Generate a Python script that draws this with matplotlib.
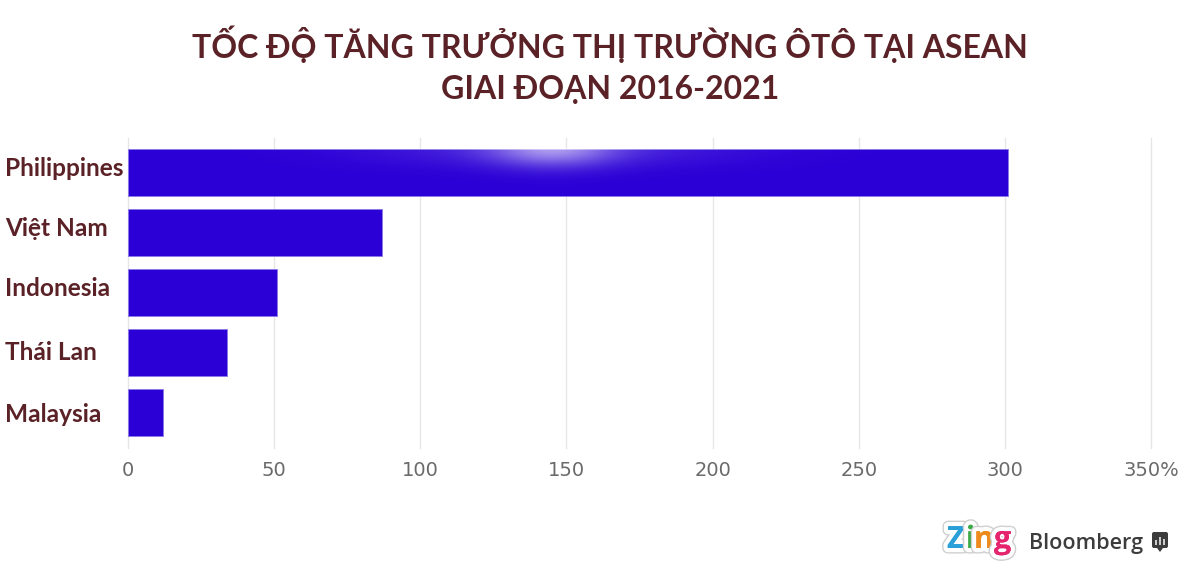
import matplotlib
matplotlib.use('Agg')
import matplotlib.pyplot as plt
import matplotlib.patheffects as pe
from matplotlib.patches import FancyBboxPatch, Polygon, Rectangle
import numpy as np

countries = ['Philippines', 'Việt Nam', 'Indonesia', 'Thái Lan', 'Malaysia']
growth = [301, 87, 51, 34, 12]
ticks = [0, 50, 100, 150, 200, 250, 300, 350]
tick_labels = ['0', '50', '100', '150', '200', '250', '300', '350%']
title = 'TỐC ĐỘ TĂNG TRƯỞNG THỊ TRƯỜNG ÔTÔ TẠI ASEAN\nGIAI ĐOẠN 2016-2021'
label_font = ['Lato', 'Open Sans', 'DejaVu Sans']
ink = '#5a2227'

W, H = 1200, 586
fig = plt.figure(figsize=(W/100, H/100), dpi=100, facecolor='white')
ax = fig.add_axes([128/W, 1-448/H, (1151-128)/W, (448-138)/H])
ax.set_xlim(0, 350)
ax.set_ylim(4.592, -0.575)
bars = ax.barh(range(5), growth, height=0.79, color='#2a00d6', edgecolor='#8a78ea', linewidth=0.6, zorder=3)
# soft highlight along the top of the longest bar
xs = np.linspace(-1, 1, 700)
ys = np.linspace(0, 1, 60)
gx, gy = np.meshgrid(xs, ys)
glow = (0.45*np.exp(-(gx/0.18)**2) + 0.16*np.exp(-(gx/0.55)**2)) * np.exp(-(gy/0.38)**2)
rgba = np.ones(glow.shape + (4,))
rgba[..., 3] = glow
b0 = bars[0]
ax.imshow(rgba, extent=(30, 260, b0.get_y()+b0.get_height(), b0.get_y()), aspect='auto', zorder=4, origin='upper')
ax.set_xlim(0, 350)
ax.set_ylim(4.592, -0.575)
ax.set_yticks([])
ax.set_xticks(ticks)
ax.set_xticklabels(tick_labels, family='DejaVu Sans', fontsize=14, color='#6a6a6a')
ax.tick_params(axis='x', length=0, pad=9)
ax.grid(axis='x', color='#e6e6e6', lw=1, zorder=0, clip_on=False)
for s in ax.spines.values():
    s.set_visible(False)
ypix = [169, 229, 289, 353, 415]
for c, y in zip(countries, ypix):
    fig.text(5/W, 1-y/H, c, family=label_font, weight='bold', fontsize=17.6, color=ink, va='center', ha='left')
fig.text(610/W, 1-64.5/H, title, family=label_font, weight='bold', fontsize=23, color=ink, ha='center', va='center', linespacing=1.48)

# logos
fig.text(1029/W, 1-543/H, 'Bloomberg', family='Open Sans', weight='semibold', fontsize=15.5, color='#3c3c3c', va='center')
zing = [('Z', 947, '#2a9fd8'), ('i', 966, '#3aa845'), ('n', 974, '#ee8a1e'), ('g', 994, '#e5256e')]
for ch, x, col in zing:
    fig.text(x/W, 1-540/H, ch, family='Open Sans', weight='bold', fontsize=22, color=col, va='center',
             path_effects=[pe.withStroke(linewidth=8, foreground='#cfcfcf'), pe.withStroke(linewidth=6, foreground='white'), pe.Normal()])
ov = fig.add_axes([0, 0, 1, 1], frameon=False)
ov.set_xlim(0, W); ov.set_ylim(H, 0); ov.axis('off')
ov.add_patch(FancyBboxPatch((1152, 532), 16, 16, boxstyle='round,pad=0,rounding_size=2', fc='#3c3c3c', ec='none'))
ov.add_patch(Polygon([[1157, 548], [1163, 548], [1160, 552]], fc='#3c3c3c', ec='none'))
for x, y0, h in [(1156, 545, 5), (1160, 545, 8), (1164, 545, 6)]:
    ov.add_patch(Rectangle((x-0.7, y0-h), 1.4, h, fc='#cccccc', ec='none'))
fig.savefig('out.png', dpi=100)
